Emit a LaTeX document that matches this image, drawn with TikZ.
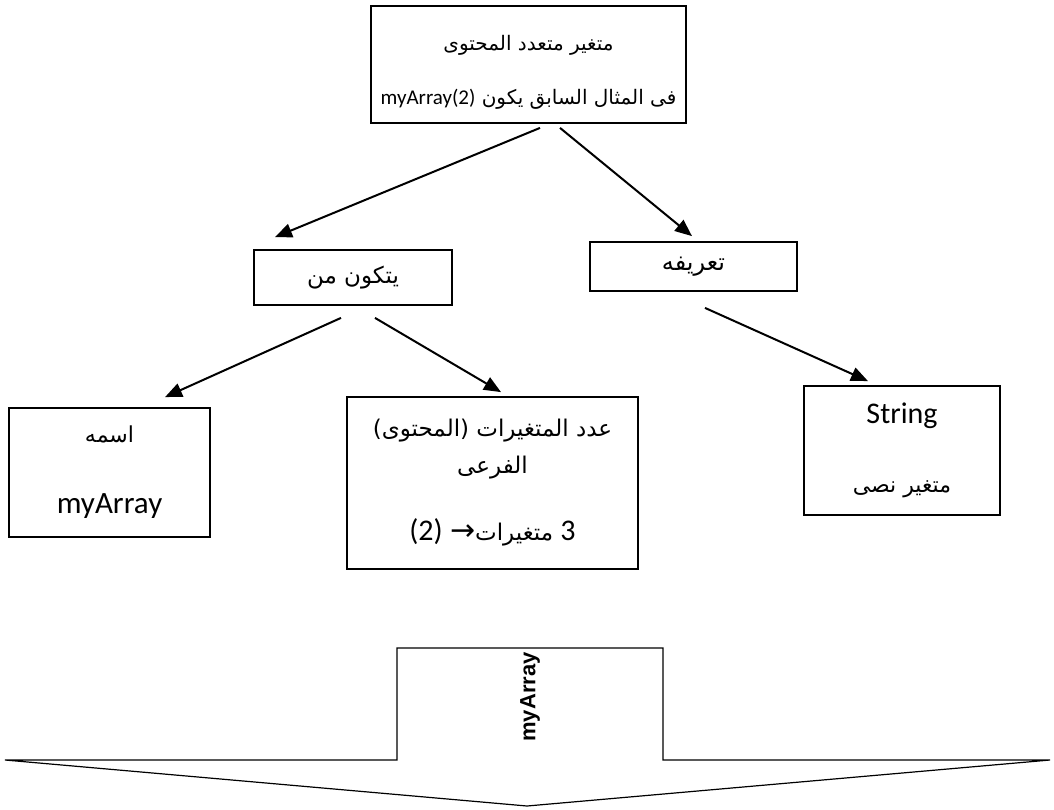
\documentclass[tikz,border=0pt]{standalone}
\usepackage{fontspec}
\setmainfont{Carlito}
\newfontfamily\arabicfont[Script=Arabic]{DejaVu Sans}
\newfontfamily\bannerfont{Liberation Sans}
\TeXXeTstate=1
\usetikzlibrary{arrows.meta}

\newcommand{\arab}[1]{{\arabicfont\beginR #1\endR}}
\newcommand{\lat}[1]{\beginL{\normalfont #1}\endL}

\begin{document}
\begin{tikzpicture}[
    x=1pt, y=-1pt,
    box/.style={rectangle, draw=black, line width=1.8pt, inner sep=0pt, align=center},
    link/.style={draw=black, line width=2pt, -{Triangle[length=17pt, width=14pt]}},
    banner/.style={draw=black, line width=1.2pt, line join=miter}
]
\useasboundingbox (0,0) rectangle (1054,809);

% --- Top box ---
\node[box, minimum width=315pt, minimum height=117pt, font=\fontsize{20}{54}\selectfont]
    (array) at (528.5,64.5)
    {\rule{0pt}{30pt}\arab{متغير متعدد المحتوى}\\
     \arab{فى المثال  السابق يكون \lat{\fontsize{21}{54}\selectfont myArray(2)}}};

% --- Second level ---
\node[box, minimum width=198pt, minimum height=55pt, font=\fontsize{23}{28}\selectfont]
    (consists) at (353,277.5) {\arab{يتكون من}};
\node[box, minimum width=207pt, minimum height=49pt, font=\fontsize{24}{28}\selectfont]
    (define) at (693.5,266.5) {\arab{تعريفه}};

% --- Third level ---
\node[box, minimum width=201pt, minimum height=129pt, font=\fontsize{22}{71}\selectfont]
    (name) at (109.5,472.5)
    {\arab{اسمه}\\ {\fontsize{31}{71}\selectfont myArray}};
\node[box, minimum width=291pt, minimum height=172pt, font=\fontsize{23}{37}\selectfont]
    (count) at (492.5,483)
    {\arab{عدد المتغيرات (المحتوى)}\\
     \arab{الفرعى}\\[30pt]
     \arab{\lat{\fontsize{30}{37}\selectfont 3} متغيرات{\fontsize{30}{37}\selectfont →} \lat{\fontsize{30}{37}\selectfont (2)}}};
\node[box, minimum width=196pt, minimum height=129pt, font=\fontsize{22}{69}\selectfont]
    (type) at (902,450.5)
    {{\fontsize{30}{69}\selectfont String}\\ \arab{متغير نصى}};

% --- Arrows ---
\draw[link] ([shift={(11.5,4)}]array.south) -- ([shift={(-78,-12)}]consists.north);
\draw[link] ([shift={(31.5,4)}]array.south) -- ([shift={(-1.5,-5)}]define.north);
\draw[link] ([shift={(-12,12)}]consists.south) -- ([shift={(55.5,-10)}]name.north);
\draw[link] ([shift={(22,12)}]consists.south) -- ([shift={(8.5,-4)}]count.north);
\draw[link] ([shift={(11.5,16)}]define.south) -- ([shift={(-34,-4)}]type.north);

% --- Bottom banner ---
\draw[banner] (5,760) -- (397,760) -- (397,648) -- (663,648) -- (663,760)
    -- (1050,760) -- (527,806) -- cycle;
\node[rotate=90, font=\bannerfont\bfseries\fontsize{22}{26}\selectfont]
    (banner label) at (530,697) {myArray};

\end{tikzpicture}
\end{document}
